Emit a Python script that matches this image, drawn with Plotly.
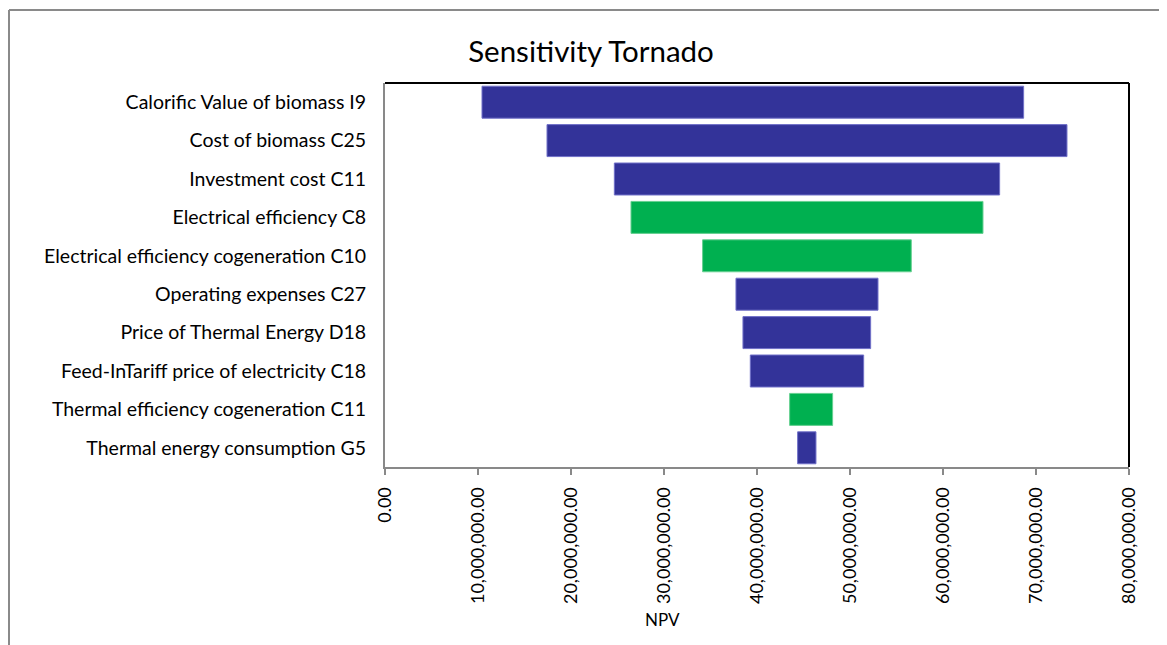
import plotly.graph_objects as go

categories = [
    "Calorific Value of biomass I9",
    "Cost of biomass C25",
    "Investment cost C11",
    "Electrical efficiency C8",
    "Electrical efficiency cogeneration C10",
    "Operating expenses C27",
    "Price of Thermal Energy D18",
    "Feed-InTariff price of electricity C18",
    "Thermal efficiency cogeneration C11",
    "Thermal energy consumption G5",
]
low_npv = [10.43e6, 17.42e6, 24.66e6, 26.45e6, 34.15e6, 37.74e6, 38.49e6, 39.28e6, 43.51e6, 44.37e6]
high_npv = [68.67e6, 73.33e6, 66.09e6, 64.30e6, 56.59e6, 53.01e6, 52.22e6, 51.47e6, 48.13e6, 46.34e6]
bar_group = ["blue", "blue", "blue", "green", "green", "blue", "blue", "blue", "green", "blue"]
x_tick_values = [0, 10e6, 20e6, 30e6, 40e6, 50e6, 60e6, 70e6, 80e6]

fill_map = {"blue": "#333399", "green": "#00B050"}
edge_map = {"blue": "#7070C8", "green": "#66D090"}

# the page body adds an 8px offset; work in page pixels and convert
OFF = 8
W, H = 1167 - OFF, 645 - OFF
PL, PR, PT, PB = 385, 1129, 83, 467  # plot area in page pixels
L, T = PL - OFF, PT - OFF
R, B = W - (PR - OFF), H - (PB - OFF)
pw, ph = PR - PL, PB - PT

def px(x):
    return (x - PL) / pw

def py(y):
    return (PB - y) / ph

font_family = "Lato, 'Open Sans', sans-serif"

fig = go.Figure()
fig.add_trace(go.Bar(
    y=categories,
    x=[h - l for h, l in zip(high_npv, low_npv)],
    base=low_npv,
    orientation="h",
    marker=dict(color=[fill_map[g] for g in bar_group],
                line=dict(color=[edge_map[g] for g in bar_group], width=1)),
    hovertemplate="%{y}: %{base:,.2f} – %{x:,.2f}<extra></extra>",
    showlegend=False,
))

fig.update_layout(
    width=W, height=H,
    margin=dict(l=L, r=R, t=T, b=B),
    paper_bgcolor="white", plot_bgcolor="white",
    bargap=0.167,
    font=dict(family=font_family, color="#000000", size=17),
    title=dict(text="Sensitivity Tornado", x=(591 - OFF) / W, xanchor="center",
               xref="container", y=1 - (52 - OFF) / H, yanchor="middle", yref="container",
               font=dict(size=29.5, family=font_family, color="#000000")),
    xaxis=dict(range=[0, 80e6], tickvals=x_tick_values, tickformat=",.2f",
               tickangle=-90, showgrid=False, zeroline=False,
               showline=True, linecolor="#898989", linewidth=2,
               ticks="outside", ticklen=6, tickcolor="#898989", tickwidth=2,
               ticklabelstandoff=5,
               tickfont=dict(size=18, family=font_family, color="#000000")),
    yaxis=dict(categoryorder="array", categoryarray=categories, autorange="reversed",
               showgrid=False, zeroline=False, showline=True,
               linecolor="#898989", linewidth=2, ticks="",
               ticklabelstandoff=13,
               tickfont=dict(size=19.5, family=font_family, color="#000000")),
    shapes=[
        dict(type="line", xref="paper", yref="paper", x0=0, x1=1, y0=1, y1=1,
             line=dict(color="#000000", width=2)),
        dict(type="line", xref="paper", yref="paper", x0=1, x1=1, y0=0, y1=1,
             line=dict(color="#000000", width=2)),
        dict(type="line", xref="paper", yref="paper", x0=px(9), x1=px(1175), y0=py(10), y1=py(10),
             line=dict(color="#8A8A8A", width=2)),
        dict(type="line", xref="paper", yref="paper", x0=px(9), x1=px(9), y0=py(10), y1=py(655),
             line=dict(color="#8A8A8A", width=2)),
    ],
    annotations=[
        dict(text="NPV", xref="paper", yref="paper", x=px(662), y=py(619),
             xanchor="center", yanchor="middle", showarrow=False,
             font=dict(size=17, family=font_family, color="#000000")),
    ],
)

fig.write_html("out.html")
